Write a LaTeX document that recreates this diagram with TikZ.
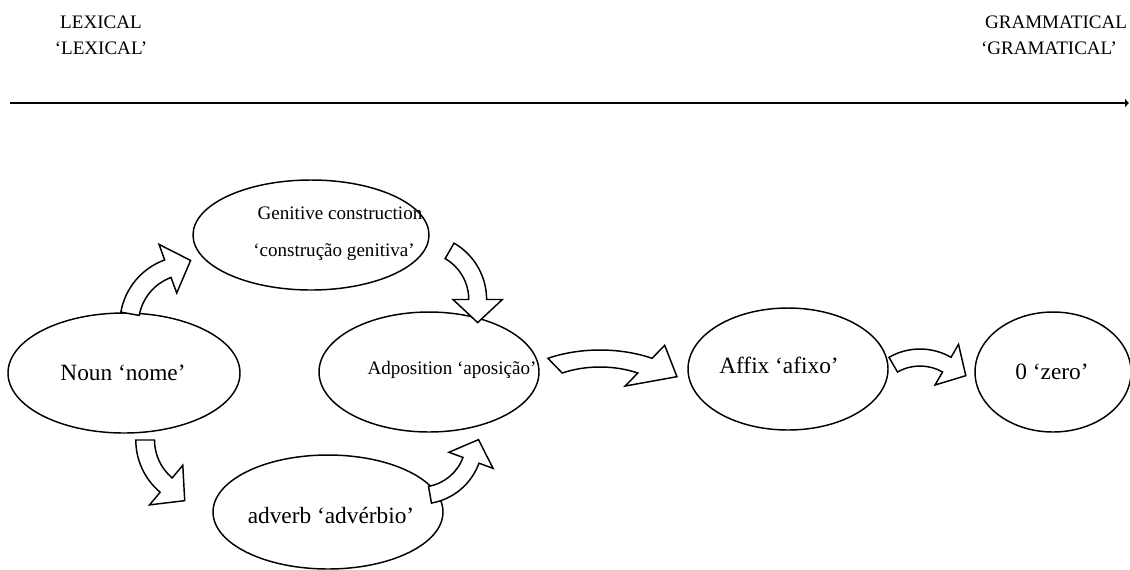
\documentclass[tikz,border=0pt]{standalone}
\usepackage{fontspec}
\setmainfont{Liberation Serif}
\usetikzlibrary{shapes.geometric,arrows.meta}
\tikzset{
    stage/.style={draw, ellipse, line width=1.1pt, inner sep=0pt},
    word/.style={font=\fontsize{14.3}{17}\selectfont, inner sep=0pt},
    bigword/.style={font=\fontsize{17.5}{21}\selectfont, inner sep=0pt},
    arrowline/.style={line width=1.1pt, line join=miter, fill=white},
    turnarrow/.pic={
        \pgfmathsetmacro\arrowbeg{90+#1/2}
        \pgfmathsetmacro\arrowend{90-#1/2}
        \pgfmathsetmacro\tipx{53.5*cos(\arrowend)+22*sin(\arrowend)}
        \pgfmathsetmacro\tipy{53.5*sin(\arrowend)-22*cos(\arrowend)}
        \draw[arrowline] (\arrowbeg:45) arc[start angle=\arrowbeg, end angle=\arrowend, radius=45]
            -- (\arrowend:30) -- (\tipx,\tipy) -- (\arrowend:77) -- (\arrowend:62)
            arc[start angle=\arrowend, end angle=\arrowbeg, radius=62] -- cycle;}
}

\begin{document}
\begin{tikzpicture}[x=0.75pt, y=0.75pt]
\useasboundingbox (0,0) rectangle (1130,-569);

\node[word] (lexical) at (101,-22) {LEXICAL};
\node[word] (lexicalgloss) at (101,-48) {‘LEXICAL’};
\node[word] (grammatical) at (1056,-22) {GRAMMATICAL};
\node[word] (grammaticalgloss) at (1049,-48) {‘GRAMATICAL’};
\coordinate (lexend) at (10,-103);
\coordinate (gramend) at (1129,-103);
\draw[line width=2pt, -{Latex[length=3pt,width=7pt]}] (lexend) -- (gramend);

\node[stage, minimum width=177pt, minimum height=82.5pt] (genitive) at (311,-235) {};
\node[stage, minimum width=174pt, minimum height=90pt] (noun) at (124,-373) {};
\node[stage, minimum width=165pt, minimum height=90pt] (adposition) at (429,-372) {};
\node[stage, minimum width=172.5pt, minimum height=85.5pt] (adverb) at (328,-512) {};
\node[stage, minimum width=150pt, minimum height=91.5pt] (affix) at (788,-369) {};
\node[stage, minimum width=117pt, minimum height=90pt] (zero) at (1053,-372) {};

\node[word] (genitivetext) at (340,-213) {Genitive construction};
\node[word] (genitivegloss) at (334,-252) {‘construção genitiva’};
\node[bigword] (nountext) at (123,-373) {Noun ‘nome’};
\node[word] (adpositiontext) at (452,-370) {Adposition ‘aposição’};
\node[bigword] (adverbtext) at (331,-515) {adverb ‘advérbio’};
\node[bigword] (affixtext) at (779,-365) {Affix ‘afixo’};
\node[bigword] (zerotext) at (1052,-372) {0 ‘zero’};

\pic[rotate=50, scale=1.1] at (188,-324) {turnarrow=60};
\pic[rotate=-60, scale=1.05] at (421.5,-299.5) {turnarrow=60};
\pic[rotate=115, xscale=-1, scale=1.1] at (204,-440) {turnarrow=50};
\pic[rotate=-140, xscale=-1] at (420.7,-442) {turnarrow=60};
\pic[xscale=1.68] at (600,-412) {turnarrow=60};
\pic at (920,-411) {turnarrow=60};
\end{tikzpicture}
\end{document}
